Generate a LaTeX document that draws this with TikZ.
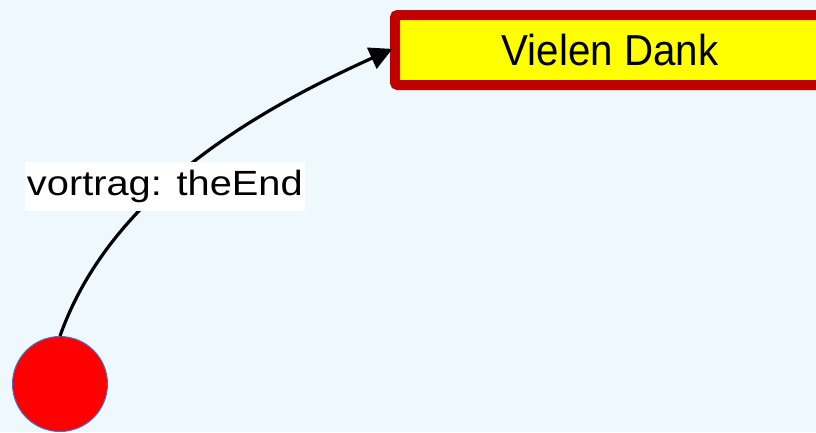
\documentclass[tikz,border=0pt]{standalone}
\usepackage{fontspec}
\setmainfont{Liberation Sans}
\usetikzlibrary{arrows.meta}
\definecolor{bg}{HTML}{F0F8FF}
\definecolor{boxred}{HTML}{C00000}
\definecolor{boxyellow}{RGB}{255,255,0}
\definecolor{dotred}{RGB}{255,0,0}
\definecolor{circblue}{HTML}{4472C4}
\begin{document}
\begin{tikzpicture}[x=0.75pt,y=-0.75pt,
  endbox/.style={draw=boxred, line width=7.5pt, fill=boxyellow, rounded corners=2pt,
    minimum width=322.5pt, minimum height=52.5pt, inner sep=0pt,
    font=\fontsize{32.5pt}{39pt}\selectfont},
  startdot/.style={circle, fill=dotred, draw=circblue, line width=0.75pt,
    minimum size=71.25pt, inner sep=0pt},
  conn/.style={draw=black, line width=2.4pt, shorten >=-2pt, -{Triangle[length=17pt,width=17pt]}},
  lbl/.style={fill=white, inner xsep=1.5pt, inner ysep=0pt, minimum height=36.75pt,
    font=\fontsize{26.25pt}{31pt}\selectfont}]
\fill[bg] (0,0) rectangle (816,432);
\useasboundingbox (0,0) rectangle (816,432);
\clip (0,0) rectangle (816,432);
\node[endbox] (b) at (610,50) {\scalebox{0.93}[1]{Vielen Dank}};
\node[startdot] (c) at (60,384) {};
\draw[conn] (c.north) .. controls +(50,-141) and +(-137,62) .. (b.west)
  node[lbl, pos=0.42] (l) {\scalebox{1.137}[1]{vortrag: theEnd}};
\end{tikzpicture}
\end{document}
